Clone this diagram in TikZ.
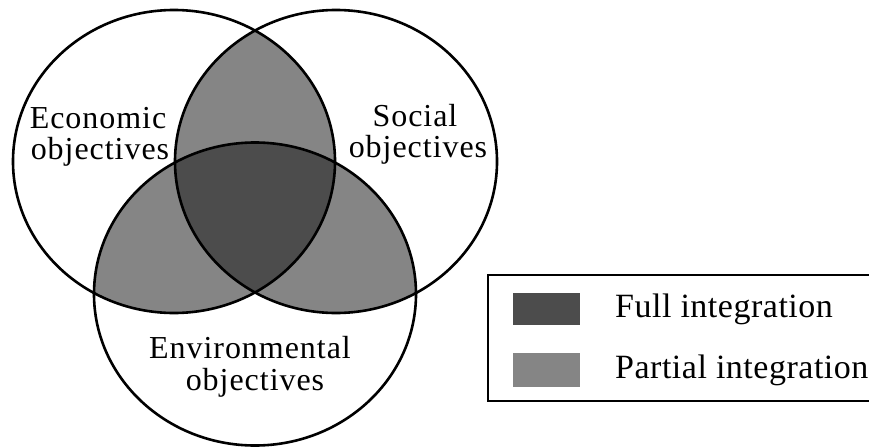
\documentclass[tikz,border=0pt]{standalone}
\usepackage{fontspec}
\setmainfont{Liberation Serif}
\newfontfamily\labelfont[LetterSpace=3]{Liberation Serif}
\newfontfamily\keyfont[LetterSpace=1.5]{Liberation Serif}
\definecolor{partialfill}{gray}{0.52}
\definecolor{fullfill}{gray}{0.30}
\begin{document}
\begin{tikzpicture}[x=1pt,y=-1pt,
  setring/.style={line width=2.6pt},
  objlabel/.style={anchor=base,inner sep=0pt,font=\labelfont\fontsize{32}{36}\selectfont},
  legendtext/.style={anchor=base west,inner sep=0pt,font=\keyfont\fontsize{34}{40}\selectfont},
  swatch/.style={draw=none},
]
\useasboundingbox (0,0) rectangle (869,447);
% centres of the three objective sets
\coordinate (ec) at (174,161.5);
\coordinate (so) at (336,161.5);
\coordinate (en) at (255,294);
\def\ringL{(ec) ellipse [x radius=161pt, y radius=151.5pt]}
\def\ringR{(so) ellipse [x radius=161pt, y radius=151.5pt]}
\def\ringB{(en) ellipse [x radius=161pt, y radius=151.5pt]}
% pairwise overlaps: partial integration
\begin{scope}\clip \ringL; \fill[partialfill] \ringR; \end{scope}
\begin{scope}\clip \ringL; \fill[partialfill] \ringB; \end{scope}
\begin{scope}\clip \ringR; \fill[partialfill] \ringB; \end{scope}
% common core: full integration
\begin{scope}\clip \ringL; \clip \ringR; \fill[fullfill] \ringB; \end{scope}
% outlines
\draw[setring] \ringL;
\draw[setring] \ringR;
\draw[setring] \ringB;
% set labels
\node[objlabel] (econA) at (98,128) {Economic};
\node[objlabel] (econB) at (100,159) {objectives};
\node[objlabel] (socA) at (415,126) {Social};
\node[objlabel] (socB) at (418,157) {objectives};
\node[objlabel] (envA) at (250,358) {Environmental};
\node[objlabel] (envB) at (255,390) {objectives};
% legend
\draw[line width=2.4pt] (872,275) -- (488,275) -- (488,401) -- (872,401);
\fill[fullfill] (513,293) rectangle (580,325);
\node[swatch] (fullkey) at (546.5,309) {};
\fill[partialfill] (513,353) rectangle (580,387);
\node[swatch] (partkey) at (546.5,370) {};
\node[legendtext] (fulltxt) at (615,317) {Full integration};
\node[legendtext] (parttxt) at (615,378) {Partial integration};
\end{tikzpicture}
\end{document}
